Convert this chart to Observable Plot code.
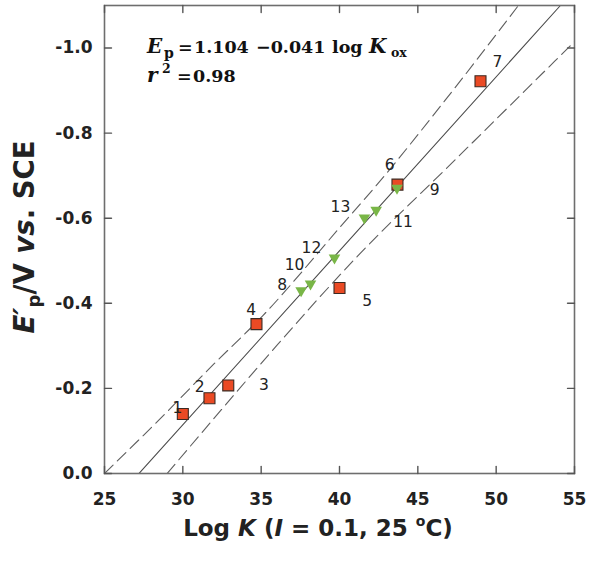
<!DOCTYPE html>
<html>
<head>
<meta charset="utf-8">
<script src="https://cdn.jsdelivr.net/npm/d3@7"></script>
<script src="https://cdn.jsdelivr.net/npm/@observablehq/plot@0.6"></script>
<style>
  html, body { margin: 0; padding: 0; background: #fff; }
  #chart svg { display: block; }
</style>
</head>
<body>
<div id="chart"></div>
<script>
// ---- data ----
// red squares: compounds 1–7
const sqId   = ["1", "2", "3", "4", "5", "6", "7"];
const sqLogK = [30.0, 31.7, 32.9, 34.7, 40.0, 43.7, 49.0];
const sqEp   = [-0.140, -0.177, -0.207, -0.351, -0.436, -0.679, -0.922];

// green down-triangles: compounds 8–13
const trId   = ["8", "9", "10", "11", "12", "13"];
const trLogK = [37.55, 43.67, 38.15, 42.34, 39.68, 41.59];
const trEp   = [-0.426, -0.667, -0.442, -0.615, -0.503, -0.597];

// number label anchors (data units)
const lblId   = ["1", "2", "3", "4", "5", "6", "7", "8", "9", "10", "11", "12", "13"];
const lblLogK = [29.66, 31.08, 35.17, 34.36, 41.77, 43.21, 50.08, 36.34, 46.08, 37.13, 44.06, 38.21, 40.06];
const lblEp   = [-0.155, -0.203, -0.207, -0.385, -0.405, -0.725, -0.967, -0.442, -0.666, -0.491, -0.591, -0.531, -0.627];

// regression line (solid)
const fitLogK = [27.2, 54.1];
const fitEp   = [0.0, -1.1];

// confidence band, upper (dashed)
const upLogK = [25.0, 28.45, 32.0, 35.08, 40.06, 42.42, 46.76, 51.42];
const upEp   = [0.0, -0.125, -0.258, -0.370, -0.580, -0.680, -0.878, -1.100];

// confidence band, lower (dashed)
const loLogK = [29.0, 32.0, 36.0, 41.0, 47.4, 55.0];
const loEp   = [0.0, -0.130, -0.301, -0.505, -0.738, -1.015];

// axis ticks
const xTicks = [25, 30, 35, 40, 45, 50, 55];
const yTicks = [0, -0.2, -0.4, -0.6, -0.8, -1.0];

// ---- build tables ----
const squares = sqId.map((id, i) => ({id, x: sqLogK[i], y: sqEp[i]}));
const tris    = trId.map((id, i) => ({id, x: trLogK[i], y: trEp[i]}));
const labels  = lblId.map((id, i) => ({id, x: lblLogK[i], y: lblEp[i]}));
const fit     = fitLogK.map((x, i) => ({x, y: fitEp[i]}));
const upper   = upLogK.map((x, i) => ({x, y: upEp[i]}));
const lower   = loLogK.map((x, i) => ({x, y: loEp[i]}));

const tickShape = {draw(context, l) { context.moveTo(0, 0); context.lineTo(0, -l); }};
const triDown = {
  draw(context, size) {
    const s = Math.sqrt(size / (Math.sqrt(3) / 4));
    const h = s * Math.sqrt(3) / 2;
    context.moveTo(-s / 2, -h / 2);
    context.lineTo(s / 2, -h / 2);
    context.lineTo(0, h / 2);
    context.closePath();
  }
};

const SANS = "DejaVu Sans, Verdana, sans-serif";
const SERIF = "DejaVu Serif, serif";
const tickColor = "#555";

const chart = Plot.plot({
  width: 600,
  height: 561,
  marginLeft: 104,
  marginRight: 26,
  marginTop: 5,
  marginBottom: 88,
  style: {fontFamily: SANS, background: "#fff", color: "#222", overflow: "visible"},
  x: {domain: [25, 55]},
  y: {domain: [0, -1.1]},
  marks: [
    Plot.line(upper, {x: "x", y: "y", stroke: "#5e5e5e", strokeWidth: 1.1, strokeDasharray: "12,6", curve: "monotone-x", clip: true}),
    Plot.line(lower, {x: "x", y: "y", stroke: "#5e5e5e", strokeWidth: 1.1, strokeDasharray: "12,6", curve: "monotone-x", clip: true}),
    Plot.line(fit, {x: "x", y: "y", stroke: "#4a4a4a", strokeWidth: 1.1, clip: true}),
    Plot.dot(squares, {x: "x", y: "y", symbol: "square", r: 6.2, fill: "#ea4a24", stroke: "#3b2a22", strokeWidth: 1.1}),
    Plot.dot(tris, {x: "x", y: "y", symbol: triDown, r: 4.3, fill: "#79b647", stroke: "none"}),
    Plot.text(labels, {x: "x", y: "y", text: "id", fontSize: 15.5, fill: "#222", fontFamily: SANS}),
    Plot.frame({stroke: "#6e6e6e", strokeWidth: 1.6}),
    Plot.vector(xTicks, {x: d => d, y: () => 0, length: 7, rotate: 0, anchor: "start", shape: tickShape, stroke: tickColor, strokeWidth: 1.4}),
    Plot.vector(xTicks, {x: d => d, y: () => -1.1, length: 7, rotate: 180, anchor: "start", shape: tickShape, stroke: tickColor, strokeWidth: 1.4}),
    Plot.vector(yTicks, {x: () => 25, y: d => d, length: 7, rotate: 90, anchor: "start", shape: tickShape, stroke: tickColor, strokeWidth: 1.4}),
    Plot.vector(yTicks, {x: () => 55, y: d => d, length: 7, rotate: -90, anchor: "start", shape: tickShape, stroke: tickColor, strokeWidth: 1.4}),
    Plot.axisX(xTicks, {tickSize: 0, tickPadding: 19, label: null, fontSize: 17, fontWeight: "bold", fill: "#222", tickFormat: d => String(d)}),
    Plot.axisY(yTicks, {tickSize: 0, tickPadding: 12, label: null, fontSize: 17, fontWeight: "bold", fill: "#222", tickFormat: d => d.toFixed(1)})
  ]
});

document.getElementById("chart").appendChild(chart);

const svg = d3.select(chart);

// regression annotation
const ann = svg.append("text")
  .attr("y", 53)
  .attr("text-anchor", "start")
  .attr("font-family", SERIF)
  .attr("font-weight", "bold")
  .attr("font-size", 17.5)
  .attr("fill", "#111");
ann.append("tspan").attr("x", 147).attr("font-style", "italic").attr("font-size", 20).text("E");
ann.append("tspan").attr("x", 164).attr("font-size", 14).attr("dy", 5).text("p");
ann.append("tspan").attr("x", 178).attr("dy", -5).text("=");
ann.append("tspan").attr("x", 194).text("1.104");
ann.append("tspan").attr("x", 256).text("\u22120.041");
ann.append("tspan").attr("x", 332).text("log");
ann.append("tspan").attr("x", 369).attr("font-style", "italic").attr("font-size", 20).text("K");
ann.append("tspan").attr("x", 391).attr("font-size", 12.5).attr("dy", 4).text("ox");

const r2 = svg.append("text")
  .attr("y", 82)
  .attr("text-anchor", "start")
  .attr("font-family", SERIF)
  .attr("font-weight", "bold")
  .attr("font-size", 17.5)
  .attr("fill", "#111");
r2.append("tspan").attr("x", 147).attr("font-style", "italic").attr("font-size", 20).text("r");
r2.append("tspan").attr("x", 162).attr("font-size", 12.5).attr("dy", -9).text("2");
r2.append("tspan").attr("x", 177).attr("dy", 9).text("=");
r2.append("tspan").attr("x", 193).text("0.98");

// x-axis title
const xt = svg.append("text")
  .attr("x", 318).attr("y", 536)
  .attr("text-anchor", "middle")
  .attr("font-family", SANS)
  .attr("font-weight", "bold")
  .attr("font-size", 23)
  .attr("fill", "#222");
xt.append("tspan").text("Log ");
xt.append("tspan").attr("font-style", "italic").text("K");
xt.append("tspan").text(" (");
xt.append("tspan").attr("font-style", "italic").text("I");
xt.append("tspan").text(" = 0.1, 25 ");
xt.append("tspan").attr("font-size", 14).attr("dy", -10).text("o");
xt.append("tspan").attr("dy", 10).text("C)");

// y-axis title
const yt = svg.append("text")
  .attr("transform", "translate(34,237) rotate(-90)")
  .attr("text-anchor", "middle")
  .attr("font-family", SANS)
  .attr("font-weight", "bold")
  .attr("font-size", 27.5)
  .attr("fill", "#222");
yt.append("tspan").attr("font-style", "italic").text("E\u2032");
yt.append("tspan").attr("font-size", 18).attr("dy", 6).text("p");
yt.append("tspan").attr("dy", -6).text("/V ");
yt.append("tspan").attr("font-style", "italic").text("vs");
yt.append("tspan").text(". SCE");
</script>
</body>
</html>
